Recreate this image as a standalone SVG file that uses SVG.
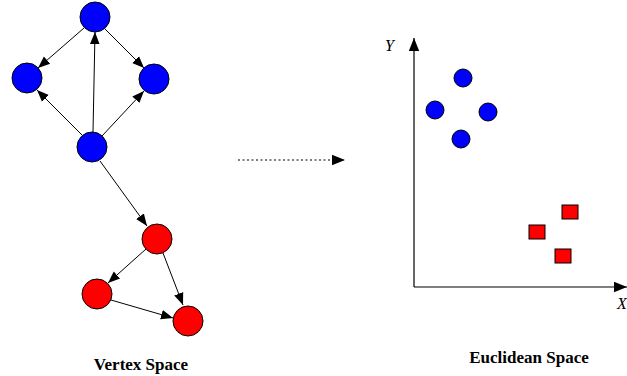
<svg xmlns="http://www.w3.org/2000/svg" width="627" height="376" viewBox="0 0 627 376">
<style>
.b{fill:#0000ff;stroke:#000;stroke-width:1}
.r{fill:#ff0000;stroke:#000;stroke-width:1}
.e{stroke:#000;stroke-width:1;fill:none;marker-end:url(#ah)}
.t{font-family:"Liberation Serif",serif;font-weight:bold;font-size:17px;text-anchor:middle}
.i{font-family:"Liberation Serif",serif;font-style:italic;font-size:16px}
</style>
<defs>
<marker id="ah" viewBox="0 0 10 10" refX="10" refY="5" markerWidth="12" markerHeight="12" markerUnits="userSpaceOnUse" orient="auto">
<path d="M0,1 L10,5 L0,9 Z" fill="#000"/>
</marker>
<marker id="ah2" viewBox="0 0 10 10" refX="10" refY="5" markerWidth="13" markerHeight="13" markerUnits="userSpaceOnUse" orient="auto">
<path d="M0,1 L10,5 L0,9 Z" fill="#000"/>
</marker>
</defs>
<g id="connectors">
<line class="e" x1="84" y1="28" x2="38" y2="68"/>
<line class="e" x1="105" y1="29" x2="144" y2="68"/>
<line class="e" x1="93" y1="132" x2="95" y2="32"/>
<line class="e" x1="82" y1="135" x2="37" y2="90"/>
<line class="e" x1="102" y1="136" x2="144" y2="91"/>
<line class="e" x1="100" y1="161" x2="147" y2="226"/>
<line class="e" x1="146" y1="249" x2="108" y2="283"/>
<line class="e" x1="163" y1="253" x2="183" y2="305"/>
<line class="e" x1="111" y1="300" x2="173" y2="318"/>
<line x1="238" y1="160" x2="345" y2="160" stroke="#000" stroke-width="1.2" stroke-dasharray="2,2.5" marker-end="url(#ah2)"/>
<line x1="414" y1="287" x2="414" y2="38" stroke="#000" stroke-width="1.2" marker-end="url(#ah2)"/>
<line x1="414" y1="287" x2="627" y2="287" stroke="#000" stroke-width="1.2" marker-end="url(#ah2)"/>
</g>
<g id="v-top"><circle class="b" cx="95" cy="17" r="15"/></g>
<g id="v-left"><circle class="b" cx="27" cy="78" r="15"/></g>
<g id="v-right"><circle class="b" cx="154" cy="79" r="15"/></g>
<g id="v-center"><circle class="b" cx="92" cy="147" r="15"/></g>
<g id="r-top"><circle class="r" cx="157" cy="239" r="15"/></g>
<g id="r-left"><circle class="r" cx="97" cy="294" r="15"/></g>
<g id="r-right"><circle class="r" cx="188" cy="321" r="15"/></g>
<g id="e-b1"><circle class="b" cx="463" cy="78" r="9"/></g>
<g id="e-b2"><circle class="b" cx="435" cy="110" r="9"/></g>
<g id="e-b3"><circle class="b" cx="488" cy="112" r="9"/></g>
<g id="e-b4"><circle class="b" cx="461" cy="139" r="9"/></g>
<g id="e-r1"><rect class="r" x="562" y="205" width="16" height="14"/></g>
<g id="e-r2"><rect class="r" x="529" y="225" width="16" height="14"/></g>
<g id="e-r3"><rect class="r" x="555" y="249" width="16" height="14"/></g>
<text class="i" x="385" y="51">Y</text>
<text class="i" x="617" y="309">X</text>
<text class="t" x="141" y="370">Vertex Space</text>
<text class="t" x="529" y="363">Euclidean Space</text>
</svg>
